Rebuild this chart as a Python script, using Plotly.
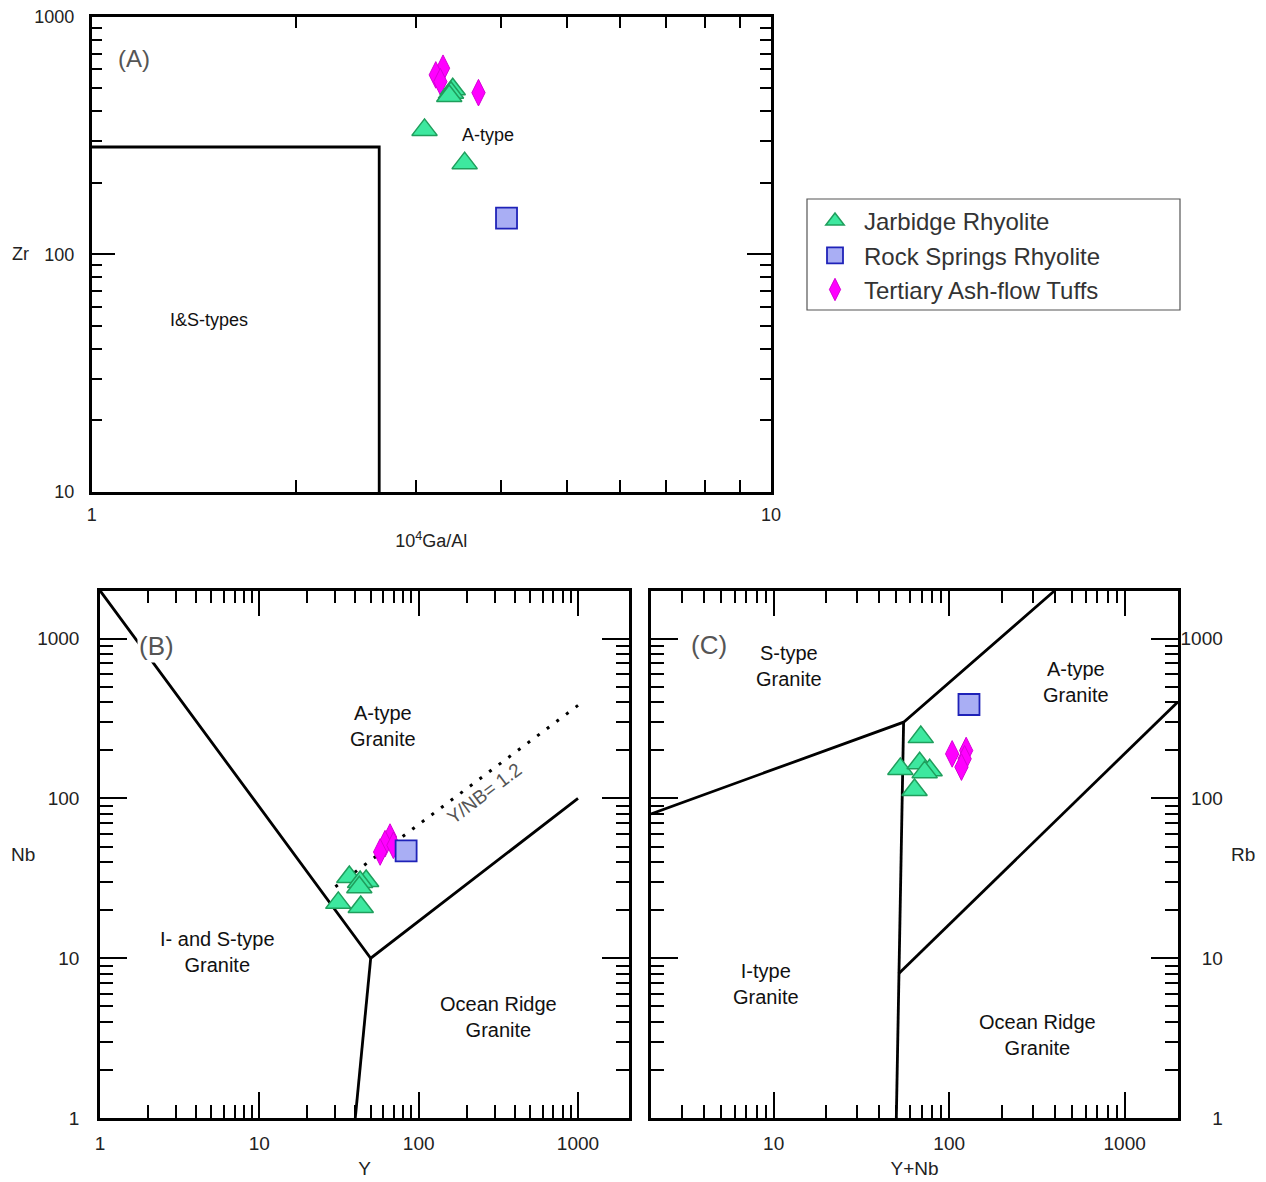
import numpy as np
import plotly.graph_objects as go

W, H = 1266, 1182          # reference picture size
OFF = 8                    # page body margin the figure is drawn at
FW, FH = W - OFF, H - OFF  # figure size so that it fits the window
FONT = "Liberation Sans, Arial, Helvetica, sans-serif"

# ---------------- data ----------------
series_names = ["Jarbidge Rhyolite", "Rock Springs Rhyolite", "Tertiary Ash-flow Tuffs"]

# Panel A : 10^4 Ga/Al vs Zr
a_jar_gaal = [3.40, 3.38, 3.36, 3.09, 3.54]
a_jar_zr = [495, 479, 464, 334, 242]
a_rs_gaal = [4.08]
a_rs_zr = [142]
a_tuff_gaal = [3.29, 3.21, 3.26, 3.71]
a_tuff_zr = [607, 569, 533, 479]

# Panel B : Y vs Nb
b_jar_y = [36.7, 46.8, 42.9, 42.4, 31.3, 43.3]
b_jar_nb = [32.2, 30.4, 30.0, 27.8, 22.2, 20.9]
b_rs_y = [83.4]
b_rs_nb = [46.9]
b_tuff_y = [66.1, 61.5, 57.3, 69.4]
b_tuff_nb = [57.3, 52.1, 46.2, 50.9]

# Panel C : Y+Nb vs Rb
c_jar_ynb = [68.9, 52.7, 67.9, 77.4, 72.5, 63.5]
c_jar_rb = [242, 153, 166, 150, 146, 113]
c_rs_ynb = [129.7]
c_rs_rb = [387]
c_tuff_ynb = [104, 125, 122.5, 117.5]
c_tuff_rb = [190, 199.5, 177, 157]

# discrimination-field boundaries
a_field_gaal = [1, 2.65, 2.65]
a_field_zr = [283, 283, 10]
b_bound1_y = [1, 50, 1000]
b_bound1_nb = [2000, 10, 100]
b_bound2_y = [50, 40]
b_bound2_nb = [10, 1]
b_ratio_y = [30, 1000]
b_ratio_nb = [28, 382]
c_bound1_ynb = [2, 55, 400]
c_bound1_rb = [80, 300, 2000]
c_bound2_ynb = [55, 50]
c_bound2_rb = [300, 1]
c_bound3_ynb = [51.5, 2000]
c_bound3_rb = [8, 400]

# tick labels
a_x_ticks = [1, 10]
a_y_ticks = [10, 100, 1000]
bc_ticks = [1, 10, 100, 1000]
c_x_ticks = [10, 100, 1000]


def px(x):
    return (x - OFF) / FW


def py(y):
    return 1 - (y - OFF) / FH


# ---------------- styles ----------------
styles = {
    "Jarbidge Rhyolite": dict(symbol="triangle-up", size=22, color="#3DE89F",
                              line=dict(color="#1F9E5C", width=1.5)),
    "Rock Springs Rhyolite": dict(symbol="square", size=21, color="#A9AEF4",
                                  line=dict(color="#1F22B8", width=1.8)),
    "Tertiary Ash-flow Tuffs": dict(symbol="diamond-tall", size=19, color="#FF00FF",
                                    line=dict(color="#D600D6", width=1)),
}
rank = {n: i + 1 for i, n in enumerate(series_names)}

fig = go.Figure()


def add_line(xs, ys, ax, dash=None, width=2.8):
    fig.add_trace(go.Scatter(x=xs, y=ys, mode="lines", xaxis=ax[0], yaxis=ax[1],
                             line=dict(color="black", width=width, dash=dash),
                             showlegend=False, hoverinfo="skip"))


add_line(a_field_gaal, a_field_zr, ("x", "y"))
add_line(b_bound1_y, b_bound1_nb, ("x2", "y2"))
add_line(b_bound2_y, b_bound2_nb, ("x2", "y2"))
add_line(b_ratio_y, b_ratio_nb, ("x2", "y2"), dash="3px,9px", width=3)
add_line(c_bound1_ynb, c_bound1_rb, ("x3", "y3"))
add_line(c_bound2_ynb, c_bound2_rb, ("x3", "y3"))
add_line(c_bound3_ynb, c_bound3_rb, ("x3", "y3"))

panel_data = {
    "Tertiary Ash-flow Tuffs": [(a_tuff_gaal, a_tuff_zr), (b_tuff_y, b_tuff_nb), (c_tuff_ynb, c_tuff_rb)],
    "Rock Springs Rhyolite": [(a_rs_gaal, a_rs_zr), (b_rs_y, b_rs_nb), (c_rs_ynb, c_rs_rb)],
    "Jarbidge Rhyolite": [(a_jar_gaal, a_jar_zr), (b_jar_y, b_jar_nb), (c_jar_ynb, c_jar_rb)],
}
axes_pairs = [("x", "y"), ("x2", "y2"), ("x3", "y3")]
for name in ["Tertiary Ash-flow Tuffs", "Rock Springs Rhyolite", "Jarbidge Rhyolite"]:
    for i, (xs, ys) in enumerate(panel_data[name]):
        fig.add_trace(go.Scatter(
            x=xs, y=ys, mode="markers", name=name, legendgroup=name,
            legendrank=rank[name], showlegend=(i == 0),
            xaxis=axes_pairs[i][0], yaxis=axes_pairs[i][1],
            marker=styles[name]))


def minors(lo, hi):
    vals = []
    for e in range(lo, hi):
        vals += [m * 10 ** e for m in range(2, 10)]
    return vals


def log_axis(domain, rng, tickvals, minor_vals, major_len, minor_len, fsize, standoff,
             anchor, side=None, ticktext=None):
    d = dict(type="log", domain=domain, range=rng, anchor=anchor, automargin=False,
             showline=True, linecolor="black", linewidth=2.5, mirror="ticks",
             ticks="inside", ticklen=major_len, tickwidth=2, tickcolor="black",
             tickmode="array", tickvals=tickvals,
             ticktext=ticktext if ticktext else [str(v) for v in tickvals],
             tickfont=dict(family=FONT, size=fsize, color="#222"),
             ticklabelstandoff=standoff, ticklabeloverflow="allow",
             showgrid=False, zeroline=False,
             minor=dict(ticks="inside", ticklen=minor_len, tickwidth=2, tickcolor="black",
                        tickmode="array", tickvals=minor_vals, showgrid=False))
    if side:
        d["side"] = side
    return d


ax_dom = [px(91.7), px(771)]
ay_dom = [py(492), py(16.7)]
bx_dom = [px(100), px(629)]
by_dom = [py(1118), py(590.7)]
cx_dom = [px(651), px(1178)]

xa = log_axis(ax_dom, [0, 1], a_x_ticks, minors(0, 1), 24, 12, 18, 5, "y")
xa["title"] = dict(text="10<sup>4</sup>Ga/Al", font=dict(family=FONT, size=18, color="#222"), standoff=11)
ya = log_axis(ay_dom, [1, 3], a_y_ticks, minors(1, 3), 24, 11, 18, 11, "x")

xb = log_axis(bx_dom, [0, 3.32], bc_ticks, minors(0, 3), 26, 13, 19, 6, "y2")
xb["title"] = dict(text="Y", font=dict(family=FONT, size=19, color="#222"), standoff=10)
yb = log_axis(by_dom, [0, 3.30], bc_ticks, minors(0, 3), 27, 13, 19, 14, "x2")

xc = log_axis(cx_dom, [np.log10(2), 3.304], c_x_ticks, minors(0, 3), 26, 13, 19, 6, "y3")
xc["title"] = dict(text="Y+Nb", font=dict(family=FONT, size=19, color="#222"), standoff=10)
fs = "\u2007"
c_y_text = [fs * (4 - len(str(v))) + str(v) for v in bc_ticks]
yc = log_axis(by_dom, [0, 3.30], bc_ticks, minors(0, 3), 27, 13, 19, -4, "x3",
              side="right", ticktext=c_y_text)

fig.update_layout(xaxis=xa, yaxis=ya, xaxis2=xb, yaxis2=yb, xaxis3=xc, yaxis3=yc)

# ---------------- text labels ----------------
ann = []


def label(text, x, y, ax, size, color="#111", **kw):
    ann.append(dict(text=text, x=np.log10(x), y=np.log10(y), xref=ax[0], yref=ax[1],
                    showarrow=False, font=dict(family=FONT, size=size, color=color), **kw))


label("A-type", 3.83, 318, ("x", "y"), 18)
label("I&amp;S-types", 1.489, 52.8, ("x", "y"), 18)
label("(A)", 1.154, 670, ("x", "y"), 24, color="#555")

label("A-type<br>Granite", 59.8, 286, ("x2", "y2"), 20)
label("I- and S-type<br>Granite", 5.5, 10.9, ("x2", "y2"), 20)
label("Ocean Ridge<br>Granite", 315, 4.28, ("x2", "y2"), 20)
label("(B)", 2.25, 904, ("x2", "y2"), 26, color="#555", bgcolor="white")
label("Y/NB= 1.2", 258, 107, ("x2", "y2"), 19, color="#555", textangle=-37)

label("S-type<br>Granite", 12.3, 678, ("x3", "y3"), 20)
label("A-type<br>Granite", 526, 538, ("x3", "y3"), 20)
label("I-type<br>Granite", 9.0, 6.9, ("x3", "y3"), 20)
label("Ocean Ridge<br>Granite", 319, 3.3, ("x3", "y3"), 20)
label("(C)", 4.3, 917, ("x3", "y3"), 26, color="#555")

# horizontal y-axis titles
for text, xpos, xanc, yref, size in [("Zr", 21, "center", "y domain", 18),
                                     ("Nb", 8.5, "left", "y2 domain", 19),
                                     ("Rb", 1243, "center", "y3 domain", 19)]:
    ann.append(dict(text=text, x=px(xpos), y=0.5, xref="paper", yref=yref, showarrow=False,
                    xanchor=xanc, yanchor="middle",
                    font=dict(family=FONT, size=size, color="#222")))

fig.update_layout(annotations=ann)

# legend frame
fig.add_shape(type="rect", xref="paper", yref="paper",
              x0=px(807), x1=px(1180), y0=py(310), y1=py(199),
              line=dict(color="#555", width=1.2), fillcolor="rgba(0,0,0,0)")

fig.update_layout(
    width=FW, height=FH,
    margin=dict(l=0, r=0, t=0, b=0, autoexpand=False),
    paper_bgcolor="white", plot_bgcolor="white",
    showlegend=True,
    legend=dict(x=px(806), y=py(199), xanchor="left", yanchor="top",
                bgcolor="rgba(0,0,0,0)", borderwidth=0,
                font=dict(family=FONT, size=24, color="#333"),
                itemwidth=48, tracegroupgap=0, itemsizing="trace"),
)

fig.write_html("out.html")
